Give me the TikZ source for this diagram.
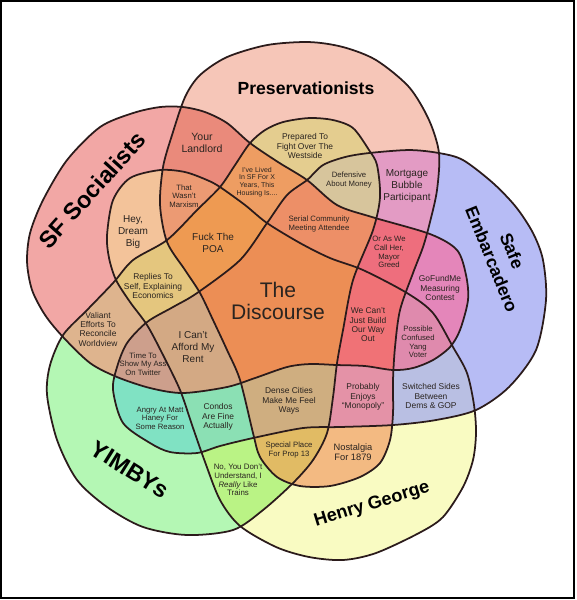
\documentclass[tikz,border=0pt]{standalone}
\usepackage{fontspec}
\setmainfont{Liberation Sans}
\definecolor{edge}{HTML}{2B1B1B}
\definecolor{ink}{HTML}{2A2420}
% one colour per region, named by the sets it lies in
\definecolor{cR}{HTML}{F2A7A5}
\definecolor{cP}{HTML}{F6C6B8}
\definecolor{cB}{HTML}{B7BCF5}
\definecolor{cH}{HTML}{F9FBC2}
\definecolor{cG}{HTML}{B4F7B4}
\definecolor{cRP}{HTML}{EA8A7B}
\definecolor{cRH}{HTML}{F3C39A}
\definecolor{cRG}{HTML}{DEB48E}
\definecolor{cRB}{HTML}{E486BA}
\definecolor{cPG}{HTML}{E4CD8F}
\definecolor{cPB}{HTML}{E39BC4}
\definecolor{cPH}{HTML}{F3BA82}
\definecolor{cGB}{HTML}{80E2C3}
\definecolor{cGH}{HTML}{BAF385}
\definecolor{cHB}{HTML}{B9BFE3}
\definecolor{cRPH}{HTML}{EC9A73}
\definecolor{cRHG}{HTML}{E4C67E}
\definecolor{cRGB}{HTML}{CD9F8C}
\definecolor{cGBH}{HTML}{8BE0B4}
\definecolor{cGHP}{HTML}{E1BB64}
\definecolor{cHPB}{HTML}{E492A7}
\definecolor{cRHB}{HTML}{DF8AAD}
\definecolor{cRBP}{HTML}{EE6E7D}
\definecolor{cBPG}{HTML}{D7C59C}
\definecolor{cPGR}{HTML}{EE9D62}
\definecolor{cRPHG}{HTML}{EE9A52}
\definecolor{cRGBH}{HTML}{D3A984}
\definecolor{cGHPB}{HTML}{CFAE80}
\definecolor{cRHBP}{HTML}{F07276}
\definecolor{cPGRB}{HTML}{ED8F67}
\definecolor{cAll}{HTML}{EC8E55}
% the five sets
\newcommand\shR{plot[smooth cycle] coordinates {(27,262) (30,233) (43,200) (67,160) (100,127) (133,113) (160,107) (183,107) (205,112) (227,123) (250,143) (278,162) (307,180) (337,205) (372,217) (430,234) (457,250) (466,275) (468,300) (460,330) (450,347) (433,360) (413,368) (393,370) (365,366) (337,365) (310,364) (287,367) (255,378) (227,387) (183,393) (150,388) (117,377) (90,363) (63,337) (45,315) (32,290)}}
\newcommand\shP{plot[smooth cycle] coordinates {(163,167) (172,135) (185,97) (200,75) (227,57) (267,45) (309,42) (343,47) (376,60) (409,87) (429,120) (439,153) (437,190) (430,222) (423,247) (413,273) (400,310) (395,347) (393,380) (393,413) (390,440) (380,463) (360,477) (330,486) (300,486) (277,477) (260,457) (253,433) (240,380) (227,350) (213,320) (200,293) (185,270) (167,242) (160,205)}}
\newcommand\shG{plot[smooth cycle] coordinates {(369,150) (353,128) (333,120) (309,118) (283,122) (265,130) (250,143) (235,165) (220,187) (197,210) (167,240) (133,260) (113,283) (87,310) (63,335) (50,365) (47,395) (57,440) (77,480) (107,507) (143,527) (187,535) (233,530) (263,510) (293,483) (313,460) (327,433) (333,397) (337,363) (343,330) (353,280) (373,230) (380,197) (377,165)}}
\newcommand\shB{plot[smooth cycle] coordinates {(369,153) (409,150) (439,153) (463,160) (493,183) (516,207) (533,233) (543,260) (546,300) (536,350) (509,387) (476,410) (436,420) (393,425) (340,427) (303,428) (253,438) (220,446) (197,453) (170,452) (150,443) (123,423) (113,390) (117,367) (127,343) (147,322) (173,307) (197,293) (240,260) (267,223) (287,195) (307,180) (323,165) (345,157)}}
\newcommand\shH{plot[smooth cycle] coordinates {(107,235) (113,200) (130,178) (160,170) (185,172) (207,180) (220,187) (245,205) (267,223) (300,243) (330,258) (363,270) (407,293) (433,313) (453,347) (467,373) (474,405) (476,433) (473,460) (463,487) (443,517) (419,533) (376,553) (343,560) (309,557) (276,547) (240,526) (220,500) (205,462) (192,425) (180,390) (163,355) (147,325) (130,302) (116,280) (109,258)}}
\newcommand\regfill[2]{\begin{scope}#2\fill[#1] (0,0) rectangle (576,600);\end{scope}}

\begin{document}
\begin{tikzpicture}[x=0.02cm,y=-0.02cm,
 outl/.style={draw=edge,line width=1pt},
 lbl/.style 2 args={align=center,inner sep=0,text=ink,font=\fontsize{#1}{#2}\selectfont},
 tinylbl/.style={lbl={4.4}{4.9}},smalllbl/.style={lbl={4.8}{5.3}},midlbl/.style={lbl={5.7}{6.8}},
 setlbl/.style 2 args={align=center,inner sep=0,text=black,font=\fontsize{#1}{#2}\selectfont\bfseries}]
 \fill[white] (0,0) rectangle (576,600);
 % singles
 \fill[cR] \shR; \fill[cP] \shP; \fill[cB] \shB; \fill[cH] \shH; \fill[cG] \shG;
 % pairs
 \regfill{cRP}{\clip\shR;\clip\shP;} \regfill{cRH}{\clip\shR;\clip\shH;}
 \regfill{cRG}{\clip\shR;\clip\shG;} \regfill{cRB}{\clip\shR;\clip\shB;}
 \regfill{cPG}{\clip\shP;\clip\shG;} \regfill{cPB}{\clip\shP;\clip\shB;}
 \regfill{cPH}{\clip\shP;\clip\shH;} \regfill{cGB}{\clip\shG;\clip\shB;}
 \regfill{cGH}{\clip\shG;\clip\shH;} \regfill{cHB}{\clip\shH;\clip\shB;}
 % triples
 \regfill{cRPH}{\clip\shR;\clip\shP;\clip\shH;} \regfill{cRHG}{\clip\shR;\clip\shH;\clip\shG;}
 \regfill{cRGB}{\clip\shR;\clip\shG;\clip\shB;} \regfill{cGBH}{\clip\shG;\clip\shB;\clip\shH;}
 \regfill{cGHP}{\clip\shG;\clip\shH;\clip\shP;} \regfill{cHPB}{\clip\shH;\clip\shP;\clip\shB;}
 \regfill{cRHB}{\clip\shR;\clip\shH;\clip\shB;} \regfill{cRBP}{\clip\shR;\clip\shB;\clip\shP;}
 \regfill{cBPG}{\clip\shB;\clip\shP;\clip\shG;} \regfill{cPGR}{\clip\shP;\clip\shG;\clip\shR;}
 % quads and centre
 \regfill{cRPHG}{\clip\shR;\clip\shP;\clip\shH;\clip\shG;}
 \regfill{cRGBH}{\clip\shR;\clip\shG;\clip\shB;\clip\shH;}
 \regfill{cGHPB}{\clip\shG;\clip\shH;\clip\shP;\clip\shB;}
 \regfill{cRHBP}{\clip\shR;\clip\shH;\clip\shB;\clip\shP;}
 \regfill{cPGRB}{\clip\shP;\clip\shG;\clip\shR;\clip\shB;}
 \regfill{cAll}{\clip\shR;\clip\shP;\clip\shG;\clip\shB;\clip\shH;}
 % outlines
 \draw[outl] \shR; \draw[outl] \shP; \draw[outl] \shB; \draw[outl] \shH; \draw[outl] \shG;
 \draw[line width=1.2pt] (1,1) rectangle (574,598);
 % set names
 \node[setlbl={13.4}{16},rotate=48] (socialists) at (92,190) {SF Socialists};
 \node[setlbl={10}{12}] (preservationists) at (306,88) {Preservationists};
 \node[setlbl={10}{12.5},rotate=-68] (embarcadero) at (502,255) {Safe\\Embarcadero};
 \node[setlbl={10.3}{12},rotate=17] (george) at (372,505) {Henry George};
 \node[setlbl={13.3}{16},rotate=-32] (yimbys) at (130,470) {YIMBYs};
 \node[lbl={12}{12.5}] (discourse) at (278,301) {The\\Discourse};
 % region labels
 \node[lbl={6}{7}] (landlord) at (202,143) {Your\\Landlord};
 \node[smalllbl] (prepared) at (305,146) {Prepared To\\Fight Over The\\Westside};
 \node[lbl={4}{4.4}] (lived) at (257,182) {I've Lived\\In SF For X\\Years, This\\Housing Is....};
 \node[tinylbl] (defensive) at (349,180) {Defensive\\About Money};
 \node[midlbl] (mortgage) at (407,186) {Mortgage\\Bubble\\Participant};
 \node[tinylbl] (marxism) at (184,196) {That\\Wasn't\\Marxism};
 \node[midlbl] (dream) at (133,232) {Hey,\\Dream\\Big};
 \node[midlbl] (poa) at (213,243) {Fuck The\\POA};
 \node[tinylbl] (serial) at (319,224) {Serial Community\\Meeting Attendee};
 \node[tinylbl] (greed) at (389,252) {Or As We\\Call Her,\\Mayor\\Greed};
 \node[smalllbl] (gofundme) at (440,288) {GoFundMe\\Measuring\\Contest};
 \node[smalllbl] (replies) at (153,286) {Replies To\\Self, Explaining\\Economics};
 \node[smalllbl] (valiant) at (98,329) {Valiant\\Efforts To\\Reconcile\\Worldview};
 \node[midlbl] (afford) at (193,347) {I Can't\\Afford My\\Rent};
 \node[smalllbl] (build) at (368,325) {We Can't\\Just Build\\Our Way\\Out};
 \node[tinylbl] (yang) at (418,342) {Possible\\Confused\\Yang\\Voter};
 \node[tinylbl] (twitter) at (143,364) {Time To\\Show My Ass\\On Twitter};
 \node[tinylbl] (haney) at (160,418) {Angry At Matt\\Haney For\\Some Reason};
 \node[smalllbl] (condos) at (218,417) {Condos\\Are Fine\\Actually};
 \node[smalllbl] (dense) at (289,401) {Dense Cities\\Make Me Feel\\Ways};
 \node[smalllbl] (monopoly) at (363,397) {Probably\\Enjoys\\``Monopoly''};
 \node[smalllbl] (switched) at (431,396) {Switched Sides\\Between\\Dems \& GOP};
 \node[tinylbl] (prop) at (289,450) {Special Place\\For Prop 13};
 \node[lbl={5.3}{5.8}] (nostalgia) at (353,452) {Nostalgia\\For 1879};
 \node[lbl={4.5}{4.9}] (trains) at (238,480) {No, You Don't\\Understand, I\\\textit{Really} Like\\Trains};
\end{tikzpicture}
\end{document}
